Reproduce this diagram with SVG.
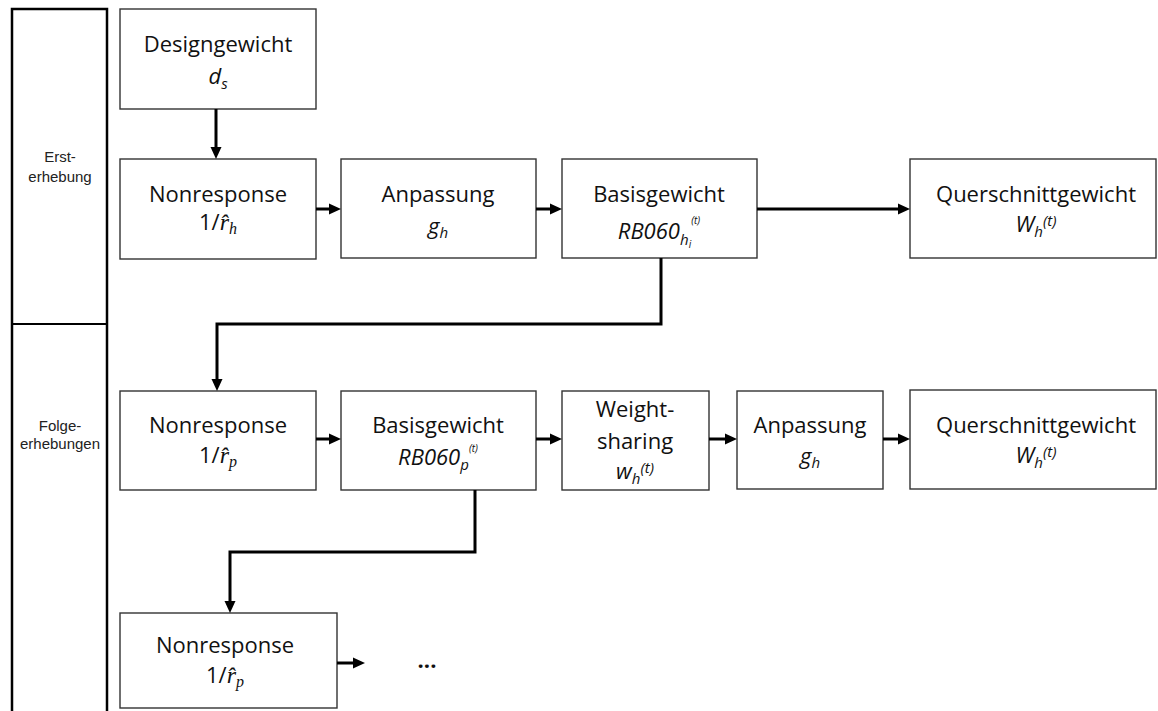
<svg xmlns="http://www.w3.org/2000/svg" width="1158" height="711" viewBox="0 0 1158 711">
<style>
.box{fill:#fff;stroke:#333;stroke-width:1.4}
.t{font-family:"Open Sans","Liberation Sans",sans-serif;font-size:22px;fill:#111;text-anchor:middle}
.i{font-style:italic}
.mr{font-family:"Liberation Serif",serif;font-style:italic}
.lab{font-family:"Liberation Sans",Arial,sans-serif;font-size:15px;fill:#222;text-anchor:middle}
.c{fill:none;stroke:#000;stroke-width:3;stroke-linejoin:miter}
</style>
<defs>
<marker id="ah" markerUnits="userSpaceOnUse" markerWidth="12" markerHeight="12" viewBox="0 0 12 12" refX="6" refY="6" orient="auto">
<path d="M0,0.5 L12,6 L0,11.5 z" fill="#000"/>
</marker>
</defs>
<g id="phases">
<rect x="12" y="9" width="95" height="712" fill="none" stroke="#000" stroke-width="2.5"/>
<line x1="12" y1="324" x2="107" y2="324" stroke="#000" stroke-width="2"/>
<text class="lab" x="60" y="162">Erst-</text>
<text class="lab" x="60" y="182">erhebung</text>
<text class="lab" x="60" y="431">Folge-</text>
<text class="lab" x="60" y="449">erhebungen</text>
</g>
<g id="n_design">
<rect class="box" x="120" y="9" width="196" height="100"/>
<text class="t" x="218" y="52">Designgewicht</text>
<text class="t i" x="218" y="84">d<tspan font-size="15" dy="5">s</tspan></text>
</g>
<g id="n_nr1">
<rect class="box" x="120" y="159" width="196" height="100"/>
<text class="t" x="218" y="202">Nonresponse</text>
<text class="t" x="218" y="230">1/<tspan class="mr" font-size="24">r&#770;</tspan><tspan class="mr" font-size="16" dy="4">h</tspan></text>
</g>
<g id="n_anp1">
<rect class="box" x="341" y="159" width="195" height="99"/>
<text class="t" x="438" y="202">Anpassung</text>
<text class="t i" x="438" y="234">g<tspan font-size="15" dy="4">h</tspan></text>
</g>
<g id="n_basis1">
<rect class="box" x="562" y="159" width="195" height="99"/>
<text class="t" x="659" y="202">Basisgewicht</text>
<text class="t i" x="659" y="239">RB060<tspan font-size="15" dy="6">h</tspan><tspan font-size="10" dy="3">i</tspan><tspan font-size="10" dy="-24">(t)</tspan></text>
</g>
<g id="n_quer1">
<rect class="box" x="910" y="159" width="246" height="99"/>
<text class="t" x="1036" y="202">Querschnittgewicht</text>
<text class="t i" x="1036" y="232">W<tspan font-size="15" dy="5">h</tspan><tspan font-size="15" dy="-11">(t)</tspan></text>
</g>
<g id="n_nr2">
<rect class="box" x="120" y="391" width="196" height="99"/>
<text class="t" x="218" y="433">Nonresponse</text>
<text class="t" x="218" y="463">1/<tspan class="mr" font-size="24">r&#770;</tspan><tspan class="mr" font-size="16" dy="4">p</tspan></text>
</g>
<g id="n_basis2">
<rect class="box" x="341" y="391" width="195" height="99"/>
<text class="t" x="438" y="433">Basisgewicht</text>
<text class="t i" x="438" y="465">RB060<tspan font-size="15" dy="5">p</tspan><tspan font-size="10" dy="-18">(t)</tspan></text>
</g>
<g id="n_ws">
<rect class="box" x="562" y="391" width="147" height="99"/>
<text class="t" x="635" y="417">Weight-</text>
<text class="t" x="635" y="449">sharing</text>
<text class="t i" x="635" y="479">w<tspan font-size="15" dy="5">h</tspan><tspan font-size="15" dy="-11">(t)</tspan></text>
</g>
<g id="n_anp2">
<rect class="box" x="737" y="391" width="146" height="98"/>
<text class="t" x="810" y="433">Anpassung</text>
<text class="t i" x="810" y="464">g<tspan font-size="15" dy="4">h</tspan></text>
</g>
<g id="n_quer2">
<rect class="box" x="910" y="390" width="246" height="99"/>
<text class="t" x="1036" y="433">Querschnittgewicht</text>
<text class="t i" x="1036" y="463">W<tspan font-size="15" dy="5">h</tspan><tspan font-size="15" dy="-11">(t)</tspan></text>
</g>
<g id="n_nr3">
<rect class="box" x="120" y="613" width="217" height="95"/>
<text class="t" x="225" y="653">Nonresponse</text>
<text class="t" x="225" y="683">1/<tspan class="mr" font-size="24">r&#770;</tspan><tspan class="mr" font-size="16" dy="4">p</tspan></text>
</g>
<g id="n_more">
<text class="t" x="427" y="668" font-weight="bold">...</text>
</g>
<g id="connectors">
<line class="c" x1="216" y1="109" x2="216" y2="153" marker-end="url(#ah)"/>
<polyline class="c" points="661,258 661,324 217,324 217,385" marker-end="url(#ah)"/>
<polyline class="c" points="475,490 475,552 230,552 230,607" marker-end="url(#ah)"/>
<line class="c" x1="316" y1="209" x2="335" y2="209" marker-end="url(#ah)"/>
<line class="c" x1="536" y1="209" x2="556" y2="209" marker-end="url(#ah)"/>
<line class="c" x1="757" y1="209" x2="904" y2="209" marker-end="url(#ah)"/>
<line class="c" x1="316" y1="439" x2="335" y2="439" marker-end="url(#ah)"/>
<line class="c" x1="536" y1="439" x2="556" y2="439" marker-end="url(#ah)"/>
<line class="c" x1="709" y1="439" x2="731" y2="439" marker-end="url(#ah)"/>
<line class="c" x1="883" y1="439" x2="904" y2="439" marker-end="url(#ah)"/>
<line class="c" x1="337" y1="663" x2="359" y2="663" marker-end="url(#ah)"/>
</g>
</svg>
